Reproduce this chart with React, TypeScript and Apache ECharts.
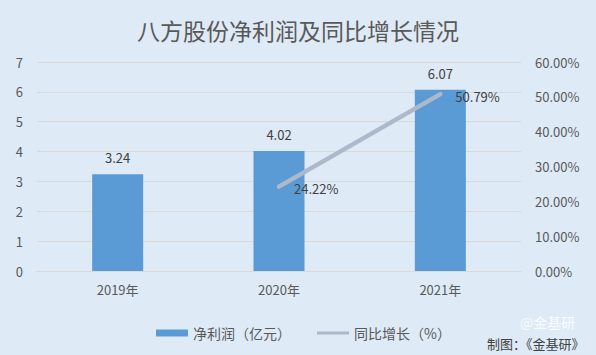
import React, { useEffect, useRef } from "react";
import * as echarts from "echarts";

const categories = ["2019年", "2020年", "2021年"];
const profit = [3.24, 4.02, 6.07];
const growth: (number | null)[] = [null, 24.22, 50.79];
const leftTicks = [0, 1, 2, 3, 4, 5, 6, 7];
const rightTicks = [0, 10, 20, 30, 40, 50, 60];

const FONT = "'Noto Sans CJK SC', 'Noto Sans', sans-serif";

export default function App() {
  const ref = useRef<HTMLDivElement>(null);
  useEffect(() => {
    if (!ref.current) return;
    const chart = echarts.init(ref.current, null, { renderer: "svg" });
    chart.setOption({
      animation: false,
      backgroundColor: "#deeaf6",
      textStyle: { fontFamily: FONT },
      title: {
        text: "八方股份净利润及同比增长情况",
        left: "center",
        top: 13,
        textStyle: { fontFamily: FONT, fontSize: 23, fontWeight: "normal", color: "#595959" },
      },
      legend: {
        top: 321,
        left: 151,
        itemGap: 26,
        itemWidth: 32,
        itemHeight: 7,
        textStyle: { fontFamily: FONT, fontSize: 14, color: "#595959" },
        data: [
          { name: "净利润（亿元）", icon: "rect" },
          { name: "同比增长（%）", icon: "path://M0,2 L30,2 L30,5 L0,5 Z", itemStyle: { color: "#adb9ca", opacity: 1 } },
        ],
      },
      grid: { left: 37, right: 75, top: 62, bottom: 84 },
      xAxis: {
        type: "category",
        data: categories,
        axisLine: { lineStyle: { color: "#d9d9d9" } },
        axisTick: { show: false },
        axisLabel: { color: "#595959", fontSize: 13, margin: 12, fontFamily: FONT },
      },
      yAxis: [
        {
          type: "value",
          min: leftTicks[0],
          max: leftTicks[leftTicks.length - 1],
          interval: 1,
          axisLine: { show: false },
          axisTick: { show: false },
          axisLabel: { color: "#595959", fontSize: 13, margin: 14, fontFamily: FONT },
          splitLine: { lineStyle: { color: "#d9d9d9" } },
        },
        {
          type: "value",
          min: rightTicks[0],
          max: rightTicks[rightTicks.length - 1],
          interval: 10,
          axisLine: { show: false },
          axisTick: { show: false },
          splitLine: { show: false },
          axisLabel: {
            color: "#595959",
            fontSize: 13,
            margin: 14,
            fontFamily: FONT,
            formatter: (v: number) => v.toFixed(2) + "%",
          },
        },
      ],
      series: [
        {
          name: "净利润（亿元）",
          type: "bar",
          data: profit,
          barWidth: 51,
          itemStyle: { color: "#5b9bd5" },
          label: {
            show: true,
            position: "top",
            distance: 10,
            color: "#404040",
            fontSize: 13,
            fontFamily: FONT,
            formatter: (p: any) => p.value.toFixed(2),
          },
        },
        {
          name: "同比增长（%）",
          type: "line",
          yAxisIndex: 1,
          data: growth,
          symbol: "circle",
          symbolSize: 2,
          showSymbol: true,
          lineStyle: { color: "#adb9ca", width: 4.5, cap: "round" },
          itemStyle: { color: "#adb9ca" },
          label: {
            show: true,
            position: "right",
            distance: 14,
            offset: [0, 2],
            color: "#404040",
            fontSize: 13,
            fontFamily: FONT,
            formatter: (p: any) => (p.value == null ? "" : Number(p.value).toFixed(2) + "%"),
          },
        },
      ],
      graphic: [
        {
          type: "text",
          left: 487,
          top: 337,
          style: { text: "制图：《金基研》", fill: "#404040", font: `13px ${FONT}` },
        },
        {
          type: "text",
          left: 520,
          top: 315,
          style: { text: "@金基研", fill: "rgba(255,255,255,0.85)", font: `14px ${FONT}` },
        },
      ],
    });
    return () => chart.dispose();
  }, []);
  return (
    <div
      ref={ref}
      style={{ position: "fixed", left: 0, top: 0, width: 596, height: 355 }}
    />
  );
}
